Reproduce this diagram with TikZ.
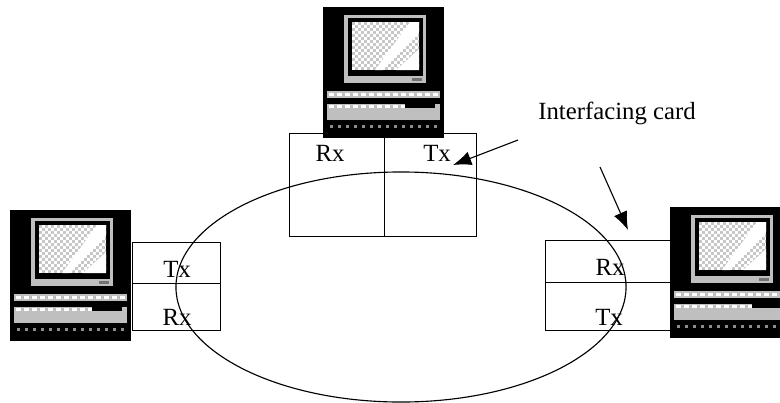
\documentclass[tikz,border=0pt]{standalone}
\usepackage{fontspec}
\setmainfont{Liberation Serif}
\usepackage{xcolor}
\usepackage{tikz}
\usetikzlibrary{arrows.meta}
\usetikzlibrary{shapes.geometric}

\definecolor{pcgray}{gray}{0.75}
\definecolor{checkgray}{gray}{0.78}

\tikzset{
    cell/.style={draw,thick,inner sep=0pt,anchor=north west},
    lbl/.style={inner sep=0pt,font=\fontsize{17.6}{20}\selectfont},
    ring/.style={draw,thick,ellipse,inner sep=0pt,minimum width=11.25cm,minimum height=5.75cm},
    pointer/.style={thick,-{Latex[length=13pt,width=10pt]}},
    pc/.pic={
        \fill[black] (0,0) rectangle (121,131);
        \fill[pcgray] (21,8) rectangle (103,76);
        \fill[black] (25,11) rectangle (100,69);
        \fill[white] (29,15) rectangle (96,63);
        \begin{scope}
            \clip (29,15) rectangle (96,63);
            \foreach \r in {0,...,15}{
                \pgfmathsetmacro\off{3*mod(\r,2)}
                \foreach \c in {0,...,11}
                    \fill[checkgray] ({29+\off+6*\c},{15+3*\r}) rectangle ++(3,3);
            }
        \end{scope}
        \fill[white] (52,63) -- (60,63) -- (96,25) -- (96,15) -- (87,15) -- cycle;
        \fill[white] (73,63) -- (96,63) -- (96,42) -- cycle;
        \fill[black!55] (89,71) rectangle (99,74);
        % keyboard
        \fill[pcgray] (4,84) rectangle (117,91);
        \foreach \i in {0,...,13} \fill[white] ({6+8*\i},86) rectangle ++(5,3);
        \fill[pcgray] (4,97) rectangle (117,113);
        \foreach \i in {0,...,9} \fill[white] ({6+8*\i},98) rectangle ++(5,3);
        \fill[black] (82,97) rectangle (112,101);
        \foreach \i in {0,...,13} \fill[black!45] ({7+8*\i},118) rectangle ++(3,3);
    }
}

\begin{document}
\begin{tikzpicture}[x=0.025cm,y=-0.025cm]
    \useasboundingbox (0,0) rectangle (780,402);
    \clip (0,0) rectangle (780,402);

    \node[ring] (ring) at (401,287) {};

    % top station
    \node[cell,minimum width=2.375cm,minimum height=2.575cm] (topRx) at (289,133) {};
    \node[cell,minimum width=2.3cm,minimum height=2.575cm] (topTx) at (384,133) {};
    \node[lbl] (lblTopRx) at (330,153) {Rx};
    \node[lbl] (lblTopTx) at (437,153) {Tx};
    \pic at (323,7) {pc};

    % left station
    \node[cell,minimum width=2.2cm,minimum height=1.025cm] (leftTx) at (132,242) {};
    \node[cell,minimum width=2.2cm,minimum height=1.175cm] (leftRx) at (132,283) {};
    \node[lbl] (lblLeftTx) at (177,269) {Tx};
    \node[lbl] (lblLeftRx) at (177,317) {Rx};
    \pic at (10,210) {pc};

    % right station
    \node[cell,minimum width=3.125cm,minimum height=1.05cm] (rightRx) at (545,240) {};
    \node[cell,minimum width=3.125cm,minimum height=1.2cm] (rightTx) at (545,282) {};
    \node[lbl] (lblRightRx) at (610,267) {Rx};
    \node[lbl] (lblRightTx) at (609,317) {Tx};
    \pic at (670,207) {pc};

    \node[lbl] (lblCard) at (617,113) {Interfacing card};
    \coordinate (fromTop) at (518,140);
    \coordinate (tipTop) at (453,165);
    \coordinate (fromRight) at (600,167);
    \coordinate (tipRight) at (628,230);
    \draw[pointer] (fromTop)--(tipTop);
    \draw[pointer] (fromRight)--(tipRight);
\end{tikzpicture}
\end{document}
